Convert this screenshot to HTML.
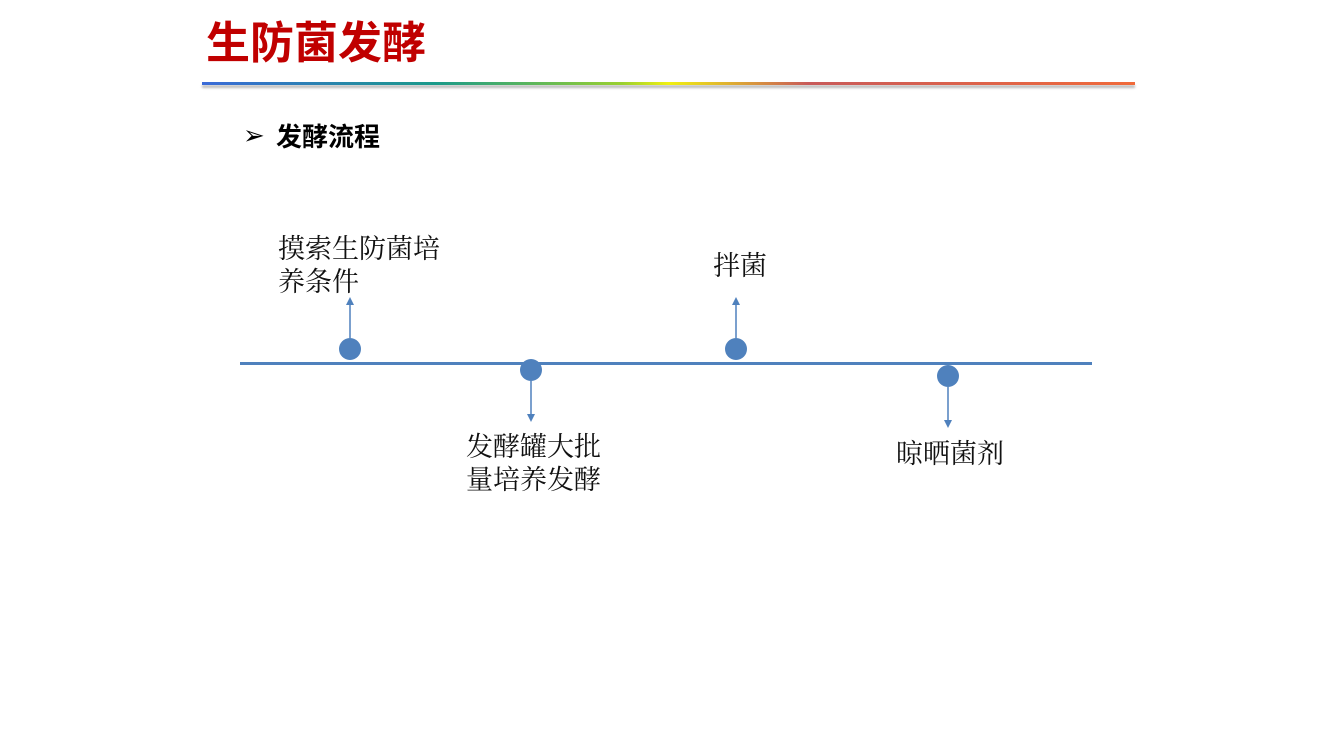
<!DOCTYPE html>
<html><head><meta charset="utf-8"><style>
body{margin:0;width:1333px;height:750px;background:#fff;position:relative;overflow:hidden}
.t{position:absolute;white-space:nowrap}
.lab{font-family:"Liberation Serif","Noto Serif CJK SC",serif;font-size:27px;line-height:33px;color:#111}
</style></head><body>
<div class="t" style="left:206px;top:14px;font-family:'Liberation Sans','Noto Sans CJK SC',sans-serif;font-weight:bold;font-size:44px;line-height:60px;color:#C00000">生防菌发酵</div>
<div style="position:absolute;left:202px;top:85px;width:933px;height:3px;background:#bbb;filter:blur(1px)"></div>
<div style="position:absolute;left:202px;top:82px;width:933px;height:3px;background:linear-gradient(90deg,#3a6ad8 0%,#1a9a8a 25%,#9ad030 45%,#f0f010 50%,#c85a5a 65%,#f06a3a 100%)"></div>
<div class="t" style="left:243px;top:118px;font-size:26px;line-height:36px;font-family:'DejaVu Sans',sans-serif">➢</div>
<div class="t" style="left:276px;top:118px;font-family:'Liberation Sans','Noto Sans CJK SC',sans-serif;font-weight:bold;font-size:26px;line-height:38px;color:#000">发酵流程</div>
<svg style="position:absolute;left:0;top:0" width="1333" height="750">
<defs><marker id="a" markerWidth="8" markerHeight="8" refX="4" refY="4" orient="auto" markerUnits="userSpaceOnUse"><path d="M0,0 L8,4 L0,8z" fill="#4f81bd"/></marker></defs>
<line x1="240" y1="363.5" x2="1092" y2="363.5" stroke="#4f81bd" stroke-width="3"/>
<g stroke="#4f81bd" stroke-width="1.5" marker-end="url(#a)">
<line x1="350" y1="338" x2="350" y2="301"/>
<line x1="531" y1="381" x2="531" y2="418"/>
<line x1="736" y1="338" x2="736" y2="301"/>
<line x1="948" y1="387" x2="948" y2="424"/>
</g>
<g fill="#4f81bd">
<circle cx="350" cy="349" r="11"/><circle cx="531" cy="370" r="11"/>
<circle cx="736" cy="349" r="11"/><circle cx="948" cy="376" r="11"/>
</g>
</svg>
<div class="t lab" style="left:278px;top:233px">摸索生防菌培<br>养条件</div>
<div class="t lab" style="left:713px;top:250px">拌菌</div>
<div class="t lab" style="left:466px;top:431px">发酵罐大批<br>量培养发酵</div>
<div class="t lab" style="left:896px;top:438px">晾晒菌剂</div>
</body></html>
